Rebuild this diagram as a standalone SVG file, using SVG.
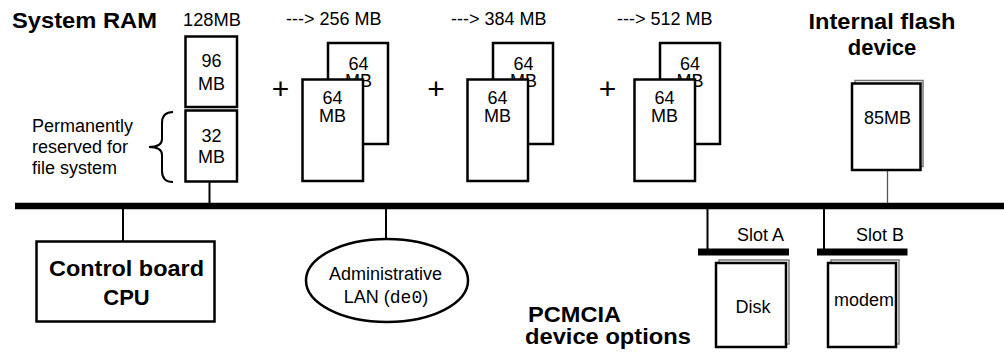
<svg xmlns="http://www.w3.org/2000/svg" width="1004" height="352" viewBox="0 0 1004 352">
<style>
text{font-family:"Liberation Sans",Arial,sans-serif;font-size:18px;fill:#000}
.b{font-weight:bold;font-size:22px}
.m{text-anchor:middle}
.mono{font-family:"Liberation Mono","Courier New",monospace}
.box{fill:#fff;stroke:#000;stroke-width:2.5}
.sh{fill:#fff;stroke:#777;stroke-width:1.5}
.ln{stroke:#000;stroke-width:2;fill:none}
.plus{font-size:30px}
</style>
<rect width="1004" height="352" fill="#fff"/>
<g id="connectors">
<line x1="15" y1="206" x2="1004" y2="206" stroke="#000" stroke-width="6.5"/>
<line class="ln" x1="209.5" y1="182" x2="209.5" y2="203"/>
<line class="ln" x1="123" y1="206" x2="123" y2="241"/>
<line class="ln" x1="386" y1="206" x2="386" y2="239"/>
<line class="ln" x1="707.5" y1="206" x2="707.5" y2="249"/>
<line class="ln" x1="824" y1="206" x2="824" y2="249"/>
<line x1="887.5" y1="170" x2="887.5" y2="203" stroke="#555" stroke-width="1.3"/>
</g>
<g id="title-ram"><text class="b" x="12" y="28" textLength="145" lengthAdjust="spacingAndGlyphs">System RAM</text></g>
<g id="ram-base">
<text x="183" y="26" textLength="58" lengthAdjust="spacingAndGlyphs">128MB</text>
<rect class="box" x="185.5" y="36.5" width="51.5" height="70.5"/>
<text class="m" x="211.5" y="67">96</text>
<text class="m" x="211.5" y="90">MB</text>
<rect class="box" x="185.5" y="110.5" width="51.5" height="71"/>
<text class="m" x="211.5" y="142">32</text>
<text class="m" x="211.5" y="163">MB</text>
</g>
<g id="reserved-note">
<path class="ln" d="M173,112 Q162,112 162,123 L162,139 Q162,147 149,147 Q162,147 162,155 L162,171 Q162,182 173,182" stroke-width="1.5"/>
<text x="32" y="132">Permanently</text>
<text x="32" y="153">reserved for</text>
<text x="32" y="174">file system</text>
</g>
<g id="ram-256">
<text class="plus" x="280.5" y="98.5" text-anchor="middle">+</text>
<text x="286" y="25">---&gt; 256 MB</text>
<rect class="box" x="328" y="43" width="60" height="101"/>
<text class="m" x="358.5" y="70">64</text>
<text class="m" x="358.5" y="87">MB</text>
<rect class="box" x="302.5" y="79.5" width="60.5" height="101.5"/>
<text class="m" x="332.5" y="104">64</text>
<text class="m" x="332.5" y="121.5">MB</text>
</g>
<g id="ram-384">
<text class="plus" x="436" y="98.5" text-anchor="middle">+</text>
<text x="451" y="25">---&gt; 384 MB</text>
<rect class="box" x="493" y="43" width="60" height="101"/>
<text class="m" x="523.5" y="70">64</text>
<text class="m" x="523.5" y="87">MB</text>
<rect class="box" x="467.5" y="79.5" width="60.5" height="101.5"/>
<text class="m" x="497.5" y="104">64</text>
<text class="m" x="497.5" y="121.5">MB</text>
</g>
<g id="ram-512">
<text class="plus" x="607.5" y="98.5" text-anchor="middle">+</text>
<text x="617" y="25">---&gt; 512 MB</text>
<rect class="box" x="660" y="43" width="60" height="101"/>
<text class="m" x="690" y="70">64</text>
<text class="m" x="690" y="87">MB</text>
<rect class="box" x="634.5" y="79.5" width="60.5" height="101.5"/>
<text class="m" x="664.5" y="104">64</text>
<text class="m" x="664.5" y="121.5">MB</text>
</g>
<g id="flash">
<text class="b m" x="882" y="29" textLength="147" lengthAdjust="spacingAndGlyphs">Internal flash</text>
<text class="b m" x="882" y="55">device</text>
<rect class="sh" x="855" y="80.5" width="68" height="86"/>
<rect class="box" x="852" y="83.5" width="68.5" height="86.5"/>
<text class="m" x="887.5" y="124">85MB</text>
</g>
<g id="cpu">
<rect class="box" x="36.5" y="241.5" width="178" height="80"/>
<text class="b m" x="126.5" y="276" textLength="155" lengthAdjust="spacingAndGlyphs">Control board</text>
<text class="b m" x="126.5" y="305">CPU</text>
</g>
<g id="lan">
<ellipse class="box" cx="387" cy="280.5" rx="81" ry="41.5"/>
<text class="m" x="385.5" y="280">Administrative</text>
<text class="m" x="386" y="303">LAN (<tspan class="mono">de0</tspan>)</text>
</g>
<g id="slot-a">
<text x="737" y="241">Slot A</text>
<rect x="698" y="248.5" width="91" height="7" fill="#000"/>
<rect class="sh" x="719" y="260" width="70" height="84"/>
<rect class="box" x="716" y="263" width="70" height="84"/>
<text class="m" x="753" y="313">Disk</text>
</g>
<g id="slot-b">
<text x="856" y="241">Slot B</text>
<rect x="817" y="248.5" width="90.5" height="7" fill="#000"/>
<rect class="sh" x="831" y="260" width="68" height="84"/>
<rect class="box" x="828" y="263" width="68" height="84"/>
<text x="834" y="306" textLength="60" lengthAdjust="spacingAndGlyphs">modem</text>
</g>
<g id="pcmcia">
<text class="b" x="528" y="322" textLength="93" lengthAdjust="spacingAndGlyphs">PCMCIA</text>
<text class="b" x="525" y="344" textLength="166" lengthAdjust="spacingAndGlyphs">device options</text>
</g>
</svg>
